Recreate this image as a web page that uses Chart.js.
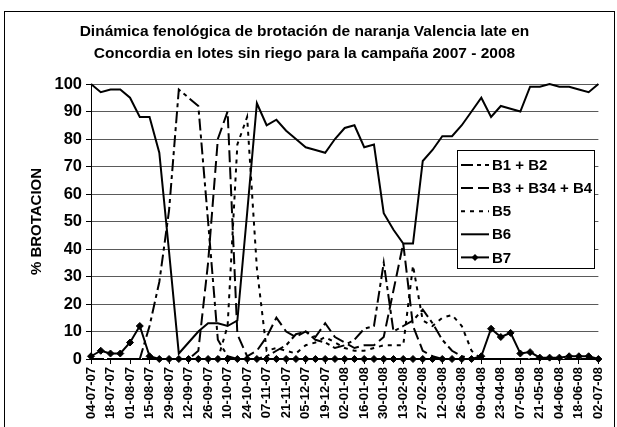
<!DOCTYPE html>
<html>
<head>
<meta charset="utf-8">
<script src="https://cdn.jsdelivr.net/npm/chart.js@4.4.1/dist/chart.umd.min.js"></script>
<style>
html,body{margin:0;padding:0;background:#fff;}
#wrap{width:617px;height:427px;position:relative;}
</style>
</head>
<body>
<div id="wrap"><canvas id="c" width="617" height="427"></canvas></div>
<script>
// ---- data ----
const weekLabels = [
 '04-07-07','11-07-07','18-07-07','25-07-07','01-08-07','08-08-07','15-08-07','22-08-07','29-08-07','05-09-07',
 '12-09-07','19-09-07','26-09-07','03-10-07','10-10-07','17-10-07','24-10-07','31-10-07','07-11-07','14-11-07',
 '21-11-07','28-11-07','05-12-07','12-12-07','19-12-07','26-12-07','02-01-08','09-01-08','16-01-08','23-01-08',
 '30-01-08','06-02-08','13-02-08','20-02-08','27-02-08','05-03-08','12-03-08','19-03-08','26-03-08','02-04-08',
 '09-04-08','16-04-08','23-04-08','30-04-08','07-05-08','14-05-08','21-05-08','28-05-08','04-06-08','11-06-08',
 '18-06-08','25-06-08','02-07-08'
];
const seriesNames = ['B1 + B2', 'B3 + B34 + B4', 'B5', 'B6', 'B7'];
const b1b2 = [0,0,0,0,0,0,12,28,54,98, 95,92,50,7,1,0,0,0,1,3, 5,9,10,7,6,4,5,7,11,12, 35,10,12,14,18,13,7,3,1,0, 0,0,0,0,0,0,0,0,0,0, 0,0,0];
const b3b34b4 = [0,0,0,0,0,0,0,0,0,0, 0,3,35,80,90,9,1,3,8,15, 10,8,10,8,13,8,6,4,5,5, 8,25,42,12,3,1,0,0,0,0, 0,0,0,0,0,0,0,0,0,0, 0,0,0];
const b5 = [0,0,0,0,0,0,0,0,0,0, 0,0,0,0,12,78,88,33,3,4, 3,2,5,6,8,6,4,3,3,4, 5,5,5,34,14,12,15,16,12,3, 0,0,0,0,0,0,0,0,0,0, 0,0,0];
const b6 = [100,97,98,98,95,88,88,75,39,2, 6,10,13,13,12,14,53,93,85,87, 83,80,77,76,75,80,84,85,77,78, 53,47,42,42,72,76,81,81,85,90, 95,88,92,91,90,99,99,100,99,99, 98,97,100];
const b7 = [1,3,2,2,6,12,1,0,0,0, 0,0,0,0,0,0,0,0,0,0, 0,0,0,0,0,0,0,0,0,0, 0,0,0,0,0,0,0,0,0,0, 1,11,8,9.5,2,2.5,0.5,0.5,0.5,1, 1,1,0];
const yTickValues = [0,10,20,30,40,50,60,70,80,90,100];
const titleLines = ['Dinámica fenológica de brotación de naranja Valencia late en', 'Concordia en lotes sin riego para la campaña 2007 - 2008'];
const yTitle = '% BROTACION';

// ---- styling ----
const FONT = '"Liberation Sans", Arial, Helvetica, sans-serif';
Chart.defaults.font.family = FONT;
Chart.defaults.color = '#000';

const dashStyles = [[12,4,4,4],[12,5],[4,5],[],[]];
const seriesData = [b1b2, b3b34b4, b5, b6, b7];

const datasets = seriesNames.map((name, i) => ({
  label: name,
  data: seriesData[i],
  borderColor: '#000',
  backgroundColor: '#000',
  borderWidth: 2,
  borderDash: dashStyles[i],
  tension: 0,
  fill: false,
  clip: false,
  pointRadius: i === 4 ? 3.5 : 0,
  pointHoverRadius: i === 4 ? 3.5 : 0,
  pointStyle: 'rectRot',
  pointBorderWidth: 1,
  order: i === 4 ? -1 : 1
}));

const framePlugin = {
  id: 'frame',
  beforeDraw(chart) {
    const ctx = chart.ctx;
    ctx.save();
    ctx.fillStyle = '#fff';
    ctx.fillRect(0, 0, chart.width, chart.height);
    ctx.strokeStyle = '#000';
    ctx.lineWidth = 1;
    ctx.strokeRect(4.5, 11.5, 610, 430);
    ctx.restore();
  }
};

const boxLegend = {
  id: 'boxLegend',
  afterDatasetsDraw(chart) {
    const ctx = chart.ctx;
    const x0 = 457.5, y0 = 150.5, w = 137, h = 118;
    ctx.save();
    ctx.fillStyle = '#fff';
    ctx.fillRect(x0, y0, w, h);
    ctx.strokeStyle = '#000';
    ctx.lineWidth = 1;
    ctx.setLineDash([]);
    ctx.strokeRect(x0, y0, w, h);
    ctx.font = 'bold 15px ' + FONT;
    ctx.textBaseline = 'middle';
    ctx.textAlign = 'left';
    ctx.fillStyle = '#000';
    chart.data.datasets.forEach((ds, i) => {
      const y = 165 + i * 23.1;
      ctx.lineWidth = 2;
      ctx.strokeStyle = '#000';
      ctx.setLineDash(ds.borderDash || []);
      ctx.beginPath();
      ctx.moveTo(461, y);
      ctx.lineTo(489, y);
      ctx.stroke();
      ctx.setLineDash([]);
      if (ds.pointRadius > 0) {
        const r = ds.pointRadius, cx = 475;
        ctx.beginPath();
        ctx.moveTo(cx, y - r); ctx.lineTo(cx + r, y); ctx.lineTo(cx, y + r); ctx.lineTo(cx - r, y);
        ctx.closePath();
        ctx.fill();
      }
      ctx.fillText(ds.label, 492, y + 1);
    });
    ctx.restore();
  }
};

new Chart(document.getElementById('c'), {
  type: 'line',
  data: { labels: weekLabels, datasets },
  plugins: [framePlugin, boxLegend],
  options: {
    responsive: false,
    animation: false,
    events: [],
    layout: { padding: { top: 0, left: 0, right: 8, bottom: 0 } },
    plugins: {
      legend: { display: false },
      tooltip: { enabled: false },
      title: {
        display: true,
        text: titleLines,
        color: '#000',
        font: { size: 15.5, weight: 'bold', lineHeight: 22 / 15.5 },
        padding: { top: 21, bottom: 19 }
      }
    },
    scales: {
      x: {
        offset: false,
        afterFit(scale) { scale.height = 68; },
        grid: {
          drawOnChartArea: false,
          drawTicks: true,
          tickLength: 5,
          color: (c) => (c.index % 2 === 0 ? '#000' : 'rgba(0,0,0,0)')
        },
        border: { color: '#000', width: 1 },
        ticks: {
          autoSkip: false,
          maxRotation: 90,
          minRotation: 90,
          padding: 3,
          font: { size: 13, weight: 'bold' },
          color: '#000',
          callback: (val, idx) => (idx % 2 === 0 ? weekLabels[idx] : '')
        }
      },
      y: {
        min: 0,
        max: 100,
        afterFit(scale) { scale.width = 91; },
        afterBuildTicks(scale) { scale.ticks = yTickValues.map(v => ({ value: v })); },
        grid: { color: '#5a5a5a', lineWidth: 1, tickLength: 5, tickColor: '#000' },
        border: { color: '#000', width: 1 },
        ticks: { padding: 4, font: { size: 16.5, weight: 'bold' }, color: '#000' },
        title: {
          display: true,
          text: yTitle,
          color: '#000',
          font: { size: 15, weight: 'bold' },
          padding: { top: 28, bottom: 0 }
        }
      }
    }
  }
});
</script>
</body>
</html>
